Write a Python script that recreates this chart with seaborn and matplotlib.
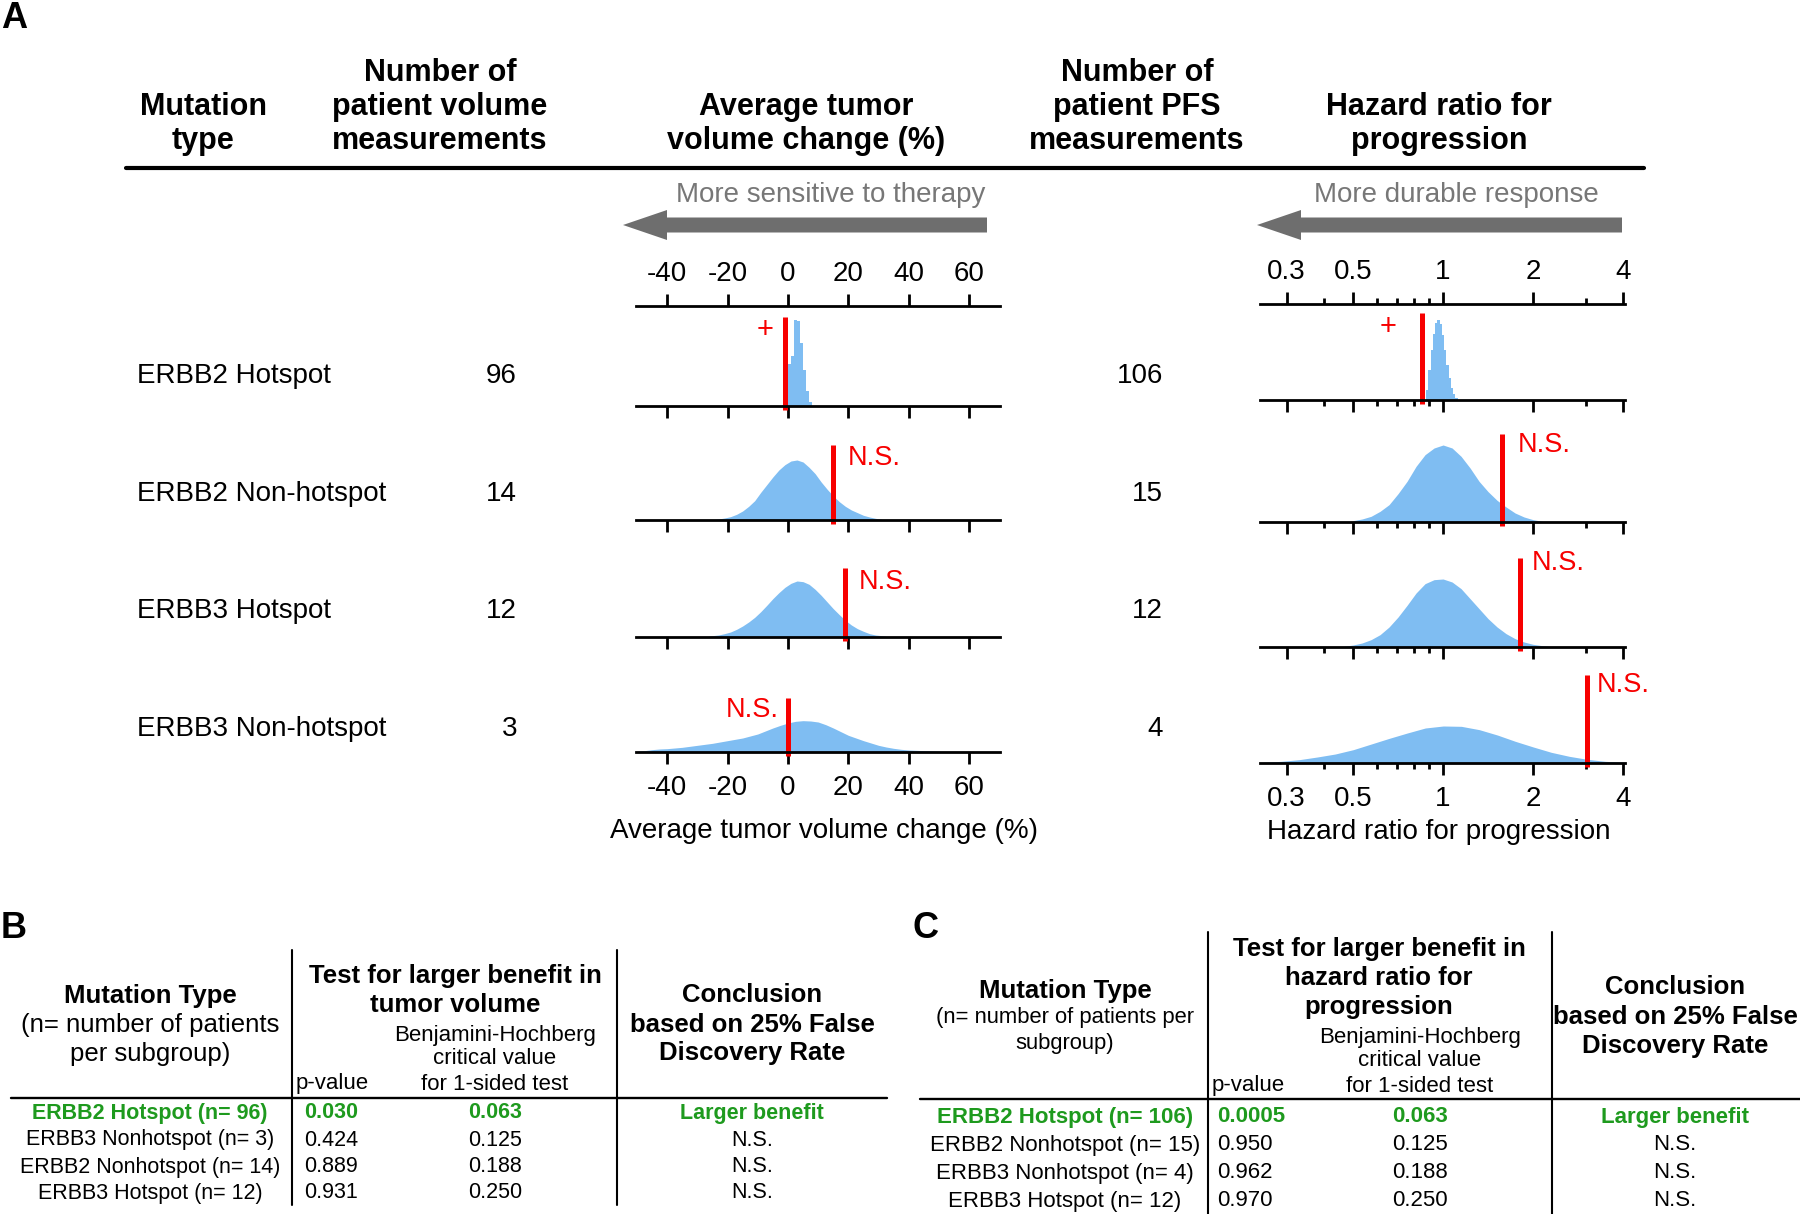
import matplotlib
matplotlib.use("Agg")
import numpy as np
import pandas as pd
import matplotlib.pyplot as plt
import matplotlib.transforms as mtransforms
from matplotlib.patches import FancyArrow
from matplotlib.lines import Line2D
from matplotlib.ticker import NullFormatter
import seaborn as sns

sns.set_style("ticks")
plt.rcParams["font.family"] = ["Liberation Sans", "DejaVu Sans"]
plt.rcParams["text.color"] = "black"
plt.rcParams["xtick.color"] = "black"
plt.rcParams["axes.edgecolor"] = "black"
plt.rcParams["axes.unicode_minus"] = False

# ---------------- panel A data ----------------
mutation_types = ["ERBB2 Hotspot", "ERBB2 Non-hotspot", "ERBB3 Hotspot", "ERBB3 Non-hotspot"]
n_volume = [96, 14, 12, 3]
n_pfs = [106, 15, 12, 4]

# simulated average tumor volume change (%): bin start, bin width, relative frequencies
vol_bin_start = [-2, -26, -28, -51.25]
vol_bin_width = [1, 2, 2, 2.5]
vol_heights = [
    [3, 9, 126, 150, 258, 255, 189, 108, 45, 12],
    [1, 3, 6, 10, 17, 27, 41, 58, 83, 106, 129, 150, 166, 177, 180, 174, 158, 139, 114,
     92, 72, 55, 41, 30, 22, 14, 9, 5, 2],
    [1, 4, 6, 10, 15, 23, 33, 45, 59, 76, 95, 115, 133, 149, 161, 168, 166, 158, 143, 125,
     105, 85, 67, 50, 36, 25, 17, 10, 6, 4, 1],
    [2, 4, 7, 9, 10, 12, 14, 17, 20, 23, 26, 30, 34, 38, 42, 48, 54, 63, 72, 80,
     87, 92, 94, 93, 90, 82, 72, 61, 50, 42, 34, 27, 20, 15, 11, 8, 6, 5, 4, 3, 2, 1],
]
vol_cutoff = [-1, 15, 19, 0]
vol_marks = ["+", "N.S.", "N.S.", "N.S."]

# simulated hazard ratio: bins in log2(HR) units
hr_log2_start = [-0.2125, -1.05, -1.15, -2.1]
hr_log2_width = [0.025, 0.1, 0.1, 0.2]
hr_heights = [
    [0, 30, 90, 150, 198, 231, 240, 228, 195, 150, 105, 66, 36, 18, 6, 0],
    [4, 9, 17, 32, 52, 85, 122, 167, 202, 222, 231, 222, 197, 162, 122, 91, 65, 45, 27, 15, 7, 2],
    [2, 6, 12, 22, 37, 60, 90, 125, 162, 190, 202, 204, 195, 175, 145, 115, 85, 60, 40, 25,
     15, 8, 4, 1],
    [2, 5, 10, 18, 27, 40, 57, 74, 90, 105, 111, 110, 100, 84, 65, 48, 32, 20, 11, 5, 2],
]
hr_cutoff = [0.85, 1.57, 1.81, 3.03]
hr_marks = ["+", "N.S.", "N.S.", "N.S."]

vol_ticks = [-40, -20, 0, 20, 40, 60]
hr_ticks = [0.3, 0.5, 1, 2, 4]
hr_tick_labels = ["0.3", "0.5", "1", "2", "4"]
hr_minor_ticks = [0.4, 0.6, 0.7, 0.8, 0.9, 3]

# ---------------- panel B / C data ----------------
tb_labels = ["ERBB2 Hotspot (n= 96)", "ERBB3 Nonhotspot (n= 3)",
             "ERBB2 Nonhotspot (n= 14)", "ERBB3 Hotspot (n= 12)"]
tb_pvalue = ["0.030", "0.424", "0.889", "0.931"]
tb_bh = ["0.063", "0.125", "0.188", "0.250"]
tb_conclusion = ["Larger benefit", "N.S.", "N.S.", "N.S."]

tc_labels = ["ERBB2 Hotspot (n= 106)", "ERBB2 Nonhotspot (n= 15)",
             "ERBB3 Nonhotspot (n= 4)", "ERBB3 Hotspot (n= 12)"]
tc_pvalue = ["0.0005", "0.950", "0.962", "0.970"]
tc_bh = ["0.063", "0.125", "0.188", "0.250"]
tc_conclusion = ["Larger benefit", "N.S.", "N.S.", "N.S."]

# ---------------- styling ----------------
W, H = 1800, 1214
BLUE = "#7FBDF2"
RED = "#F70000"
GREEN = "#1E9A1E"
GRAY = "#6E6E6E"

fig = plt.figure(figsize=(W / 100, H / 100), dpi=100)
PX = mtransforms.Affine2D().scale(1 / W, -1 / H).translate(0, 1) + fig.transFigure


def txt(x, y, s, size, weight="normal", color="black", ha="center", va="center"):
    fig.text(x, y, s, transform=PX, fontsize=size, fontweight=weight,
             color=color, ha=ha, va=va)


def hline(x0, x1, y, lw):
    fig.add_artist(Line2D([x0, x1], [y, y], transform=PX, color="black", lw=lw))


def vline(x, y0, y1, lw):
    fig.add_artist(Line2D([x, x], [y0, y1], transform=PX, color="black", lw=lw))


def px_axes(x0, x1, y_bottom, height):
    ax = fig.add_axes([x0 / W, 1 - y_bottom / H, (x1 - x0) / W, height / H])
    ax.patch.set_alpha(0)
    return ax


# ---------------- panel A: header ----------------
txt(14, 18, "A", 26, "bold")
HDR = 22
txt(203, 107, "Mutation", HDR, "bold")
txt(203, 141, "type", HDR, "bold")
txt(440, 73, "Number of", HDR, "bold")
txt(440, 107, "patient volume", HDR, "bold")
txt(440, 141, "measurements", HDR, "bold")
txt(806, 107, "Average tumor", HDR, "bold")
txt(806, 141, "volume change (%)", HDR, "bold")
txt(1137, 73, "Number of", HDR, "bold")
txt(1137, 107, "patient PFS", HDR, "bold")
txt(1137, 141, "measurements", HDR, "bold")
txt(1439, 107, "Hazard ratio for", HDR, "bold")
txt(1439, 141, "progression", HDR, "bold")
hline(126, 1644, 168, 3)

# direction arrows
for x_tail, x_tip, label, x_lab in [(987, 623, "More sensitive to therapy", 831),
                                     (1622, 1257, "More durable response", 1456)]:
    fig.add_artist(FancyArrow(x_tail, 225, x_tip - x_tail, 0, width=15, head_width=30,
                              head_length=44, length_includes_head=True,
                              color=GRAY, lw=0, transform=PX))
    txt(x_lab, 195, label, 20, color="#777777")

LEFT_X = (636, 1000)
RIGHT_X = (1260, 1625)
VOL_LIM = (-50.3, 70.2)
HR_LIM = (2 ** -2.033, 2 ** 2.022)
left_base = [406, 520, 637, 752]
right_base = [400, 522, 647, 763]
row_label_y = [376, 494, 611, 729]
left_line_top = [89, 75, 69, 54]      # px above baseline
right_line_top = [87, 88, 89, 88]
left_mark_off = [(-20, -13, "center"), (14, -13, "left"), (13, -14, "left"), (-9, -12, "right")]
right_mark_off = [(-34, -14, "center"), (16, -11, "left"), (12, -5, "left"), (10, -10, "left")]
UNIT = 3  # frequency units per pixel
TICK_FS = 20


def style_row(ax, show_labels):
    for s in ["left", "right", "top"]:
        ax.spines[s].set_visible(False)
    ax.spines["bottom"].set_linewidth(2)
    ax.set_yticks([])
    ax.set_ylabel("")
    ax.set_xlabel("")
    ax.set_ylim(0, 100 * UNIT)
    ax.tick_params(axis="x", which="major", bottom=True, length=8.6, width=2,
                   labelsize=TICK_FS, pad=8, labelbottom=show_labels)
    ax.tick_params(axis="x", which="minor", bottom=True, length=4.3, width=2)


def top_axis(x0, x1, y_line):
    ax = px_axes(x0, x1, y_line + 10, 10)
    for s in ["left", "right", "bottom"]:
        ax.spines[s].set_visible(False)
    ax.spines["top"].set_linewidth(2)
    ax.xaxis.tick_top()
    ax.set_yticks([])
    ax.tick_params(axis="x", which="major", top=True, length=8.6, width=2,
                   labelsize=TICK_FS, pad=5)
    ax.tick_params(axis="x", which="minor", top=True, length=4.3, width=2)
    return ax


def mark(ax, x, top, label, off):
    dx, dy, ha = off
    size = 21 if label == "+" else 19.5
    ax.annotate(label, xy=(x, top), xytext=(dx * 0.72, dy * 0.72),
                textcoords="offset points", ha=ha, va="center",
                color=RED, fontsize=size)


def draw_hist(ax, centers, heights, edges, element):
    df = pd.DataFrame({"value": centers, "freq": heights})
    sns.histplot(data=df, x="value", weights="freq", bins=list(edges),
                 element=element, fill=True, color=BLUE, alpha=1, linewidth=0, ax=ax)


# top axes
ax_t = top_axis(*LEFT_X, 306)
ax_t.set_xlim(*VOL_LIM)
ax_t.set_xticks(vol_ticks)

ax_t = top_axis(*RIGHT_X, 304)
ax_t.set_xscale("log", base=2)
ax_t.set_xlim(*HR_LIM)
ax_t.set_xticks(hr_ticks, hr_tick_labels)
ax_t.set_xticks(hr_minor_ticks, minor=True)
ax_t.xaxis.set_minor_formatter(NullFormatter())

for i in range(4):
    txt(137, row_label_y[i], mutation_types[i], 20, ha="left")
    txt(517, row_label_y[i], str(n_volume[i]), 20, ha="right")
    txt(1163, row_label_y[i], str(n_pfs[i]), 20, ha="right")
    element = "step" if i == 0 else "poly"

    # tumor volume histogram
    ax = px_axes(*LEFT_X, left_base[i], 100)
    h = np.array(vol_heights[i], dtype=float)
    edges = vol_bin_start[i] + vol_bin_width[i] * np.arange(len(h) + 1)
    draw_hist(ax, (edges[:-1] + edges[1:]) / 2, h, edges, element)
    style_row(ax, i == 3)
    ax.set_xlim(*VOL_LIM)
    ax.set_xticks(vol_ticks)
    top = left_line_top[i] * UNIT
    ax.plot([vol_cutoff[i]] * 2, [-4 * UNIT, top], color=RED, lw=3.6,
            solid_capstyle="butt", clip_on=False)
    mark(ax, vol_cutoff[i], top, vol_marks[i], left_mark_off[i])

    # hazard ratio histogram
    ax = px_axes(*RIGHT_X, right_base[i], 100)
    h = np.array(hr_heights[i], dtype=float)
    u_edges = hr_log2_start[i] + hr_log2_width[i] * np.arange(len(h) + 1)
    draw_hist(ax, 2 ** ((u_edges[:-1] + u_edges[1:]) / 2), h, 2 ** u_edges, element)
    ax.set_xscale("log", base=2)
    style_row(ax, i == 3)
    ax.set_xlim(*HR_LIM)
    ax.set_xticks(hr_ticks, hr_tick_labels)
    ax.set_xticks(hr_minor_ticks, minor=True)
    ax.xaxis.set_minor_formatter(NullFormatter())
    top = right_line_top[i] * UNIT
    ax.plot([hr_cutoff[i]] * 2, [-4 * UNIT, top], color=RED, lw=3.6,
            solid_capstyle="butt", clip_on=False)
    mark(ax, hr_cutoff[i], top, hr_marks[i], right_mark_off[i])

txt(824, 831, "Average tumor volume change (%)", 20)
txt(1439, 832, "Hazard ratio for progression", 20)

# ---------------- panel B ----------------
HB = 18.5
txt(14, 928, "B", 26, "bold")
vline(292, 950, 1205, 1.5)
vline(617, 950, 1205, 1.5)
hline(11, 887, 1098, 1.7)
txt(150, 996, "Mutation Type", HB, "bold")
txt(150, 1025, "(n= number of patients", HB)
txt(150, 1054, "per subgroup)", HB)
txt(455, 976, "Test for larger benefit in", HB, "bold")
txt(455, 1005, "tumor volume", HB, "bold")
txt(495, 1035, "Benjamini-Hochberg", 16)
txt(495, 1059, "critical value", 16)
txt(495, 1084, "for 1-sided test", 16)
txt(296, 1084, "p-value", 16, ha="left")
txt(752, 995, "Conclusion", HB, "bold")
txt(752, 1025, "based on 25% False", HB, "bold")
txt(752, 1053, "Discovery Rate", HB, "bold")
for i, y in enumerate([1113, 1140, 1167, 1193]):
    c, w = (GREEN, "bold") if i == 0 else ("black", "normal")
    txt(150, y, tb_labels[i], 15.5, w, c)
    txt(304, y, tb_pvalue[i], 15.5, w, c, ha="left")
    txt(495, y, tb_bh[i], 15.5, w, c)
    txt(752, y, tb_conclusion[i], 15.5, w, c)

# ---------------- panel C ----------------
txt(925, 928, "C", 26, "bold")
vline(1208, 932, 1214, 1.5)
vline(1552, 932, 1214, 1.5)
hline(920, 1800, 1099, 1.7)
txt(1065, 991, "Mutation Type", HB, "bold")
txt(1065, 1018, "(n= number of patients per", 15.8)
txt(1065, 1044, "subgroup)", 15.8)
txt(1379, 949, "Test for larger benefit in", HB, "bold")
txt(1379, 978, "hazard ratio for", HB, "bold")
txt(1379, 1007, "progression", HB, "bold")
txt(1420, 1037, "Benjamini-Hochberg", 16)
txt(1420, 1061, "critical value", 16)
txt(1420, 1086, "for 1-sided test", 16)
txt(1212, 1086, "p-value", 16, ha="left")
txt(1675, 987, "Conclusion", HB, "bold")
txt(1675, 1017, "based on 25% False", HB, "bold")
txt(1675, 1046, "Discovery Rate", HB, "bold")
for i, y in enumerate([1117, 1145, 1173, 1201]):
    c, w = (GREEN, "bold") if i == 0 else ("black", "normal")
    txt(1065, y, tc_labels[i], 16, w, c)
    txt(1217, y, tc_pvalue[i], 16, w, c, ha="left")
    txt(1420, y, tc_bh[i], 16, w, c)
    txt(1675, y, tc_conclusion[i], 16, w, c)

fig.savefig("out.png", dpi=100)
